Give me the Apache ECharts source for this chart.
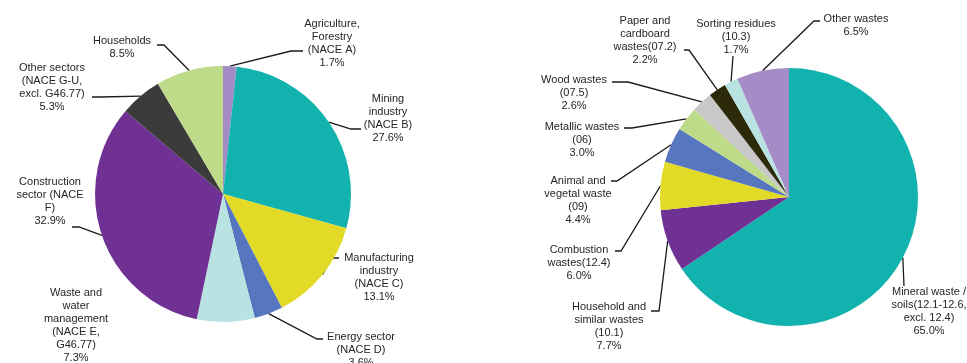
<!DOCTYPE html>
<html>
<head>
<meta charset="utf-8">
<title>Waste generation by sector and by waste category</title>
<script src="https://cdn.jsdelivr.net/npm/echarts@6/dist/echarts.min.js"></script>
<style>
  html, body { margin: 0; padding: 0; background: #ffffff; }
  #chart { width: 967px; height: 363px; }
</style>
</head>
<body>
<div id="chart"></div>
<script>
// Waste generated by economic activity (NACE sections), share in %
const sectorNames = [
  'Agriculture,\nForestry\n(NACE A)',
  'Mining\nindustry\n(NACE B)',
  'Manufacturing\nindustry\n(NACE C)',
  'Energy sector\n(NACE D)',
  'Waste and\nwater\nmanagement\n(NACE E,\nG46.77)',
  'Construction\nsector (NACE\nF)',
  'Other sectors\n(NACE G-U,\nexcl. G46.77)',
  'Households'
];
const sectorValues = [1.7, 27.6, 13.1, 3.6, 7.3, 32.9, 5.3, 8.5];

// Waste generated by waste category, share in %
const categoryNames = [
  'Mineral waste /\nsoils(12.1-12.6,\nexcl. 12.4)',
  'Household and\nsimilar wastes\n(10.1)',
  'Combustion\nwastes(12.4)',
  'Animal and\nvegetal waste\n(09)',
  'Metallic wastes\n(06)',
  'Wood wastes\n(07.5)',
  'Paper and\ncardboard\nwastes(07.2)',
  'Sorting residues\n(10.3)',
  'Other wastes'
];
const categoryValues = [65.0, 7.7, 6.0, 4.4, 3.0, 2.6, 2.2, 1.7, 6.5];

// Slice colours
const sectorColors = ['#a58cc6', '#12b3ae', '#e2da26', '#5676bf', '#b9e3e2', '#6f3193', '#3b3b3b', '#bedb8a'];
const categoryColors = ['#12b3ae', '#6f3193', '#e2da26', '#5676bf', '#bedb8a', '#c8c8c8', '#2d2a0a', '#b9e3e2', '#a58cc6'];

// Label placement: [text centre x, text top y, leader end x, leader end y, elbow offset]
const sectorLabelPos = [
  [332, 17, 303, 51, -12],
  [388, 92, 361, 129, -10],
  [379, 251, 339, 258, -7],
  [361, 330, 323, 339, -6],
  [76, 286],
  [50, 175, 72, 227, 7],
  [52, 61, 92, 97, 8],
  [122, 34, 157, 45, 7]
];
const categoryLabelPos = [
  [929, 285, 904, 286, 0],
  [609, 300, 651, 311, 8],
  [579, 243, 615, 251, 6],
  [578, 174, 611, 181, 6],
  [582, 120, 624, 128, 8],
  [574, 73, 612, 82, 16],
  [645, 14, 684, 50, 5],
  [736, 17, 733, 56, 0],
  [856, 12, 820, 21, -6]
];

function buildData(names, values, colors, hideLine) {
  return names.map((n, i) => {
    const item = { name: n, value: values[i], itemStyle: { color: colors[i] } };
    if (hideLine.indexOf(i) >= 0) item.labelLine = { show: false };
    return item;
  });
}

function placeLabels(pos) {
  return function (params) {
    const p = pos[params.dataIndex];
    const out = { x: p[0], y: p[1], align: 'center', verticalAlign: 'top' };
    if (p.length > 2 && params.labelLinePoints) {
      const start = params.labelLinePoints[0];
      out.labelLinePoints = [start, [p[2] + p[4], p[3]], [p[2], p[3]]];
    }
    return out;
  };
}

const labelStyle = {
  show: true,
  position: 'outside',
  alignTo: 'none',
  formatter: p => p.name + '\n' + p.value.toFixed(1) + '%',
  fontFamily: '"Liberation Sans", Arial, sans-serif',
  fontSize: 11,
  lineHeight: 13,
  color: '#262626',
  align: 'center'
};
const lineStyle = { show: true, lineStyle: { color: '#1a1a1a', width: 1.3 } };

function pieSeries(center, radius, data, pos) {
  return {
    type: 'pie',
    center: center,
    radius: radius,
    startAngle: 90,
    clockwise: true,
    avoidLabelOverlap: false,
    silent: true,
    itemStyle: { borderWidth: 0 },
    label: labelStyle,
    labelLine: lineStyle,
    labelLayout: placeLabels(pos),
    data: data
  };
}

const chart = echarts.init(document.getElementById('chart'), null, { renderer: 'canvas' });
chart.setOption({
  animation: false,
  backgroundColor: '#ffffff',
  series: [
    pieSeries([223, 194], 128, buildData(sectorNames, sectorValues, sectorColors, [4]), sectorLabelPos),
    pieSeries([789, 197], 129, buildData(categoryNames, categoryValues, categoryColors, []), categoryLabelPos)
  ]
});
</script>
</body>
</html>
